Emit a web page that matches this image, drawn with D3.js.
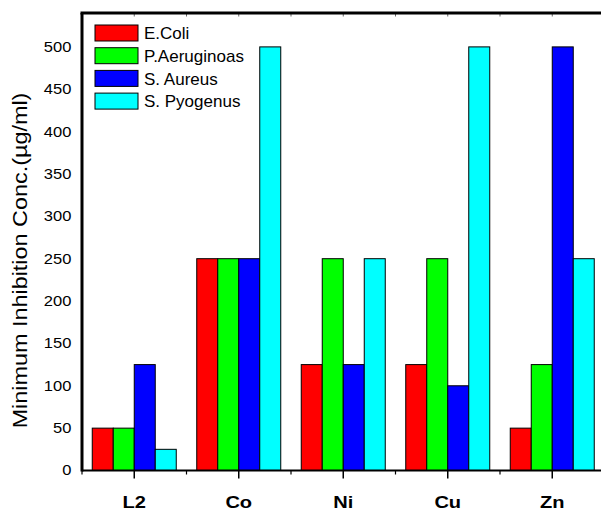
<!DOCTYPE html>
<html>
<head>
<meta charset="utf-8">
<script src="https://cdn.jsdelivr.net/npm/d3@7/dist/d3.min.js"></script>
<style>
  html, body { margin: 0; padding: 0; background: #fff; }
  svg { display: block; }
  text { font-family: "Liberation Sans", Arial, Helvetica, sans-serif; fill: #000; }
</style>
</head>
<body>
<svg id="chart" width="601" height="512"></svg>
<script>
// Minimum inhibition concentration (µg/ml) per compound and organism
const categories = ["L2", "Co", "Ni", "Cu", "Zn"];
const seriesNames = ["E.Coli", "P.Aeruginoas", "S. Aureus", "S. Pyogenus"];
const seriesColors = ["#ff0000", "#00ff00", "#0000ff", "#00ffff"];
const eColi        = [50, 250, 125, 125, 50];
const pAeruginoas  = [50, 250, 250, 250, 125];
const sAureus      = [125, 250, 125, 100, 500];
const sPyogenus    = [25, 500, 250, 500, 250];
const yTicks       = [0, 50, 100, 150, 200, 250, 300, 350, 400, 450, 500];

const seriesValues = [eColi, pAeruginoas, sAureus, sPyogenus];
const rows = categories.map((c, i) => ({
  category: c,
  values: seriesNames.map((s, j) => ({ series: s, color: seriesColors[j], value: seriesValues[j][i] }))
}));

const svg = d3.select("#chart");
const plotLeft = 82, plotRight = 604.5, plotTop = 13, plotBottom = 470.5;

const x = d3.scaleBand().domain(categories).range([plotLeft, plotRight]).paddingInner(0).paddingOuter(0);
const xInner = d3.scaleBand().domain(seriesNames).range([0, x.bandwidth()]).paddingInner(0).paddingOuter(0.488);
const y = d3.scaleLinear().domain([0, 540]).range([plotBottom, plotTop]);

// bars
const groups = svg.append("g").selectAll("g").data(rows).join("g")
  .attr("transform", d => `translate(${x(d.category)},0)`);
groups.selectAll("rect").data(d => d.values).join("rect")
  .attr("x", d => xInner(d.series))
  .attr("y", d => y(d.value))
  .attr("width", xInner.bandwidth())
  .attr("height", d => y(0) - y(d.value))
  .attr("fill", d => d.color)
  .attr("stroke", "#000")
  .attr("stroke-width", 1);

// left axis: labels only, text widened slightly
const yAxis = svg.append("g").attr("transform", `translate(${plotLeft},0)`)
  .call(d3.axisLeft(y).tickValues(yTicks).tickSize(0).tickPadding(9));
yAxis.select(".domain").remove();
yAxis.selectAll("text")
  .style("font-size", "14px")
  .style("font-family", "'Liberation Sans', Arial, sans-serif")
  .attr("transform", "scale(1.18,1)");

// bottom axis: major ticks at group centres, minor ticks at group boundaries
const xAxis = svg.append("g").attr("transform", `translate(0,${plotBottom})`)
  .call(d3.axisBottom(x).tickSize(8).tickPadding(17));
xAxis.select(".domain").remove();
xAxis.selectAll("line").attr("stroke", "#000").attr("stroke-width", 1.5);
xAxis.selectAll("text")
  .style("font-size", "17px")
  .style("font-weight", "bold")
  .style("font-family", "'Liberation Sans', Arial, sans-serif")
  .attr("transform", "scale(1.18,1)");

const boundaries = categories.map(c => x(c)).concat([x(categories[categories.length - 1]) + x.bandwidth()]);
svg.append("g").selectAll("line").data(boundaries).join("line")
  .attr("x1", d => d).attr("x2", d => d)
  .attr("y1", plotBottom).attr("y2", plotBottom + 4)
  .attr("stroke", "#000").attr("stroke-width", 1.2);

// top frame ticks pointing inward
const topTicks = categories.map(c => x(c) + x.bandwidth() / 2).concat(boundaries);
svg.append("g").selectAll("line").data(topTicks).join("line")
  .attr("x1", d => d).attr("x2", d => d)
  .attr("y1", plotTop).attr("y2", plotTop + 3.5)
  .attr("stroke", "#666").attr("stroke-width", 1);

// frame lines
svg.append("line").attr("x1", plotLeft).attr("x2", plotRight).attr("y1", plotBottom).attr("y2", plotBottom)
  .attr("stroke", "#000").attr("stroke-width", 2);
svg.append("line").attr("x1", plotLeft - 1.5).attr("x2", plotRight).attr("y1", plotTop).attr("y2", plotTop)
  .attr("stroke", "#000").attr("stroke-width", 3);
svg.append("line").attr("x1", plotLeft).attr("x2", plotLeft).attr("y1", plotTop).attr("y2", plotBottom + 1)
  .attr("stroke", "#000").attr("stroke-width", 3);
svg.append("line").attr("x1", plotRight).attr("x2", plotRight).attr("y1", plotTop).attr("y2", plotBottom)
  .attr("stroke", "#000").attr("stroke-width", 3);

// y axis title
svg.append("text")
  .attr("transform", `translate(26.5,${(93 + 428) / 2}) rotate(-90) scale(1.17,1)`)
  .attr("text-anchor", "middle")
  .style("font-size", "20px")
  .text("Minimum Inhibition Conc.(\u00b5g/ml)");

// legend
const legend = svg.append("g").selectAll("g").data(seriesNames).join("g")
  .attr("transform", (d, i) => `translate(95,${25 + i * 22.7})`);
legend.append("rect")
  .attr("width", 43).attr("height", 16)
  .attr("fill", (d, i) => seriesColors[i])
  .attr("stroke", "#000").attr("stroke-width", 1);
legend.append("text")
  .attr("x", 49).attr("y", 14.3)
  .style("font-size", "17px")
  .text(d => d);
</script>
</body>
</html>
